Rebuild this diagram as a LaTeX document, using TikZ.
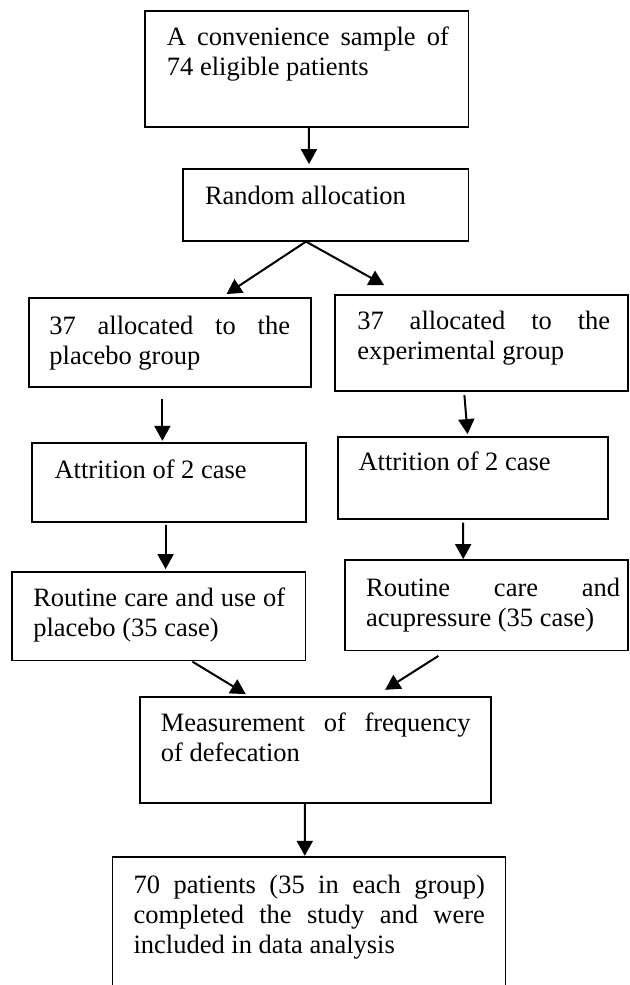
\documentclass[tikz,border=0pt]{standalone}
\usepackage{fontspec}
\setmainfont{Liberation Serif}
\usetikzlibrary{arrows.meta,fit}
\begin{document}
\begin{tikzpicture}[x=0.5pt,y=-0.5pt,
  box/.style={draw, line width=0.9pt, inner sep=0pt, rectangle},
  txt/.style={anchor=base west, inner sep=0pt, font=\fontsize{13.25pt}{15pt}\selectfont},
  arr/.style={line width=1pt, -{Triangle[length=7.5pt,width=8pt]}}]
\path[use as bounding box, fill=white] (0,0) rectangle (629,985);
\clip (0,0) rectangle (629,985);
% boxes
\node[box, fit={(145.2,10.7) (468.5,126.7)}] (top) {};
\node[box, fit={(182.9,169) (468.5,240.7)}] (rand) {};
\node[box, fit={(28.9,298.3) (311.3,386.7)}] (left37) {};
\node[box, fit={(335.3,295) (628,391)}] (right37) {};
\node[box, fit={(32.1,443.3) (305.7,521.7)}] (attrL) {};
\node[box, fit={(337.7,436.7) (607.7,519)}] (attrR) {};
\node[box, fit={(12,571.7) (305.5,660.5)}] (routL) {};
\node[box, fit={(345,560) (628,650.5)}] (routR) {};
\node[box, fit={(139.6,696.7) (490.6,803.3)}] (meas) {};
\node[box, fit={(112.5,857.3) (505.5,1000)}] (final) {};
% texts
\node[txt] (topt) at (166.5,45) {\parbox[t]{141pt}{\makebox[141pt][s]{A convenience sample of}\\74 eligible patients}};
\node[txt] (randt) at (204.6,204) {Random allocation};
\node[txt] (left37t) at (49,334.5) {\parbox[t]{120.3pt}{\makebox[120.3pt][s]{37 allocated to the}\\placebo group}};
\node[txt] (right37t) at (357,329.5) {\parbox[t]{126.35pt}{\makebox[126.35pt][s]{37 allocated to the}\\experimental group}};
\node[txt] (attrLt) at (54.2,478.3) {Attrition of 2 case};
\node[txt] (attrRt) at (358.2,470.7) {Attrition of 2 case};
\node[txt] (routLt) at (32.9,606) {\parbox[t]{126pt}{\makebox[126pt][s]{Routine care and use of}\\placebo (35 case)}};
\node[txt] (routRt) at (365.8,596.7) {\parbox[t]{127pt}{\makebox[127pt][s]{Routine care and}\\acupressure (35 case)}};
\node[txt] (meast) at (160.4,731.7) {\parbox[t]{154.85pt}{\makebox[154.85pt][s]{Measurement of frequency}\\of defecation}};
\node[txt] (finalt) at (133.2,893) {\parbox[t]{175.65pt}{\makebox[175.65pt][s]{70 patients (35 in each group)}\\\makebox[175.65pt][s]{completed the study and were}\\included in data analysis}};
% connectors
\draw[arr] ([shift={(2,0)}]top.south) -- ([shift={(127,-4)}]rand.north west);
\draw[arr] ([shift={(124,0)}]rand.south west) -- ([shift={(198.5,-3.3)}]left37.north west);
\draw[arr] ([shift={(124,0)}]rand.south west) -- ([shift={(49.7,-9)}]right37.north west);
\draw[arr] ([shift={(134.4,11)}]left37.south west) -- ([shift={(131.2,-1.6)}]attrL.north west);
\draw[arr] ([shift={(130,3.3)}]right37.south west) -- ([shift={(130.8,-1.7)}]attrR.north west);
\draw[arr] ([shift={(134.4,2.6)}]attrL.south west) -- ([shift={(154.5,-1.7)}]routL.north west);
\draw[arr] ([shift={(126.4,2.7)}]attrR.south west) -- ([shift={(119.1,0)}]routR.north west);
\draw[arr] ([shift={(181.3,0.2)}]routL.south west) -- ([shift={(107.1,-1.7)}]meas.north west);
\draw[arr] ([shift={(94.3,4.5)}]routR.south west) -- ([shift={(246.4,-6)}]meas.north west);
\draw[arr] ([shift={(166.1,0)}]meas.south west) -- ([shift={(193.2,-0.6)}]final.north west);
\end{tikzpicture}
\end{document}
